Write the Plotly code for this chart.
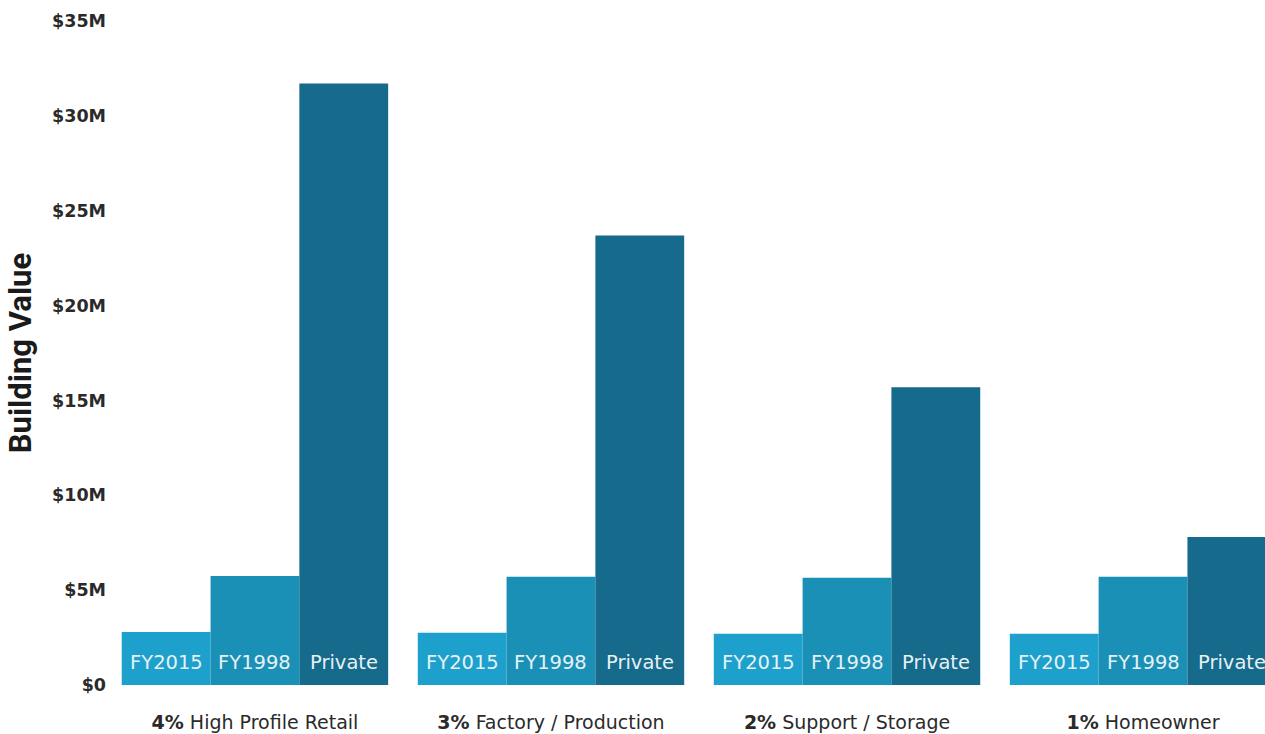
import plotly.graph_objects as go

categories = ["<b>4%</b> High Profile Retail", "<b>3%</b> Factory / Production",
              "<b>2%</b> Support / Storage", "<b>1%</b> Homeowner"]
series_names = ["FY2015", "FY1998", "Private"]
fy2015 = [2.8, 2.75, 2.7, 2.7]
fy1998 = [5.75, 5.7, 5.65, 5.7]
private = [31.7, 23.7, 15.7, 7.8]
y_ticks = [0, 5, 10, 15, 20, 25, 30, 35]
y_tick_labels = ["$0", "$5M", "$10M", "$15M", "$20M", "$25M", "$30M", "$35M"]
colors = ["#1DA0CC", "#1A90B6", "#166A8B"]

fig = go.Figure()
for name, vals, col in zip(series_names, [fy2015, fy1998, private], colors):
    fig.add_trace(go.Bar(x=list(range(len(categories))), y=vals, name=name,
                         marker=dict(color=col, line=dict(width=0)),
                         showlegend=False))

# in-bar labels near the base of each bar
bargap = 0.1
bw = (1 - bargap) / len(series_names)
annotations = []
for i in range(len(categories)):
    for j, name in enumerate(series_names):
        annotations.append(dict(
            x=i + (j - 1) * bw, y=0, xref="x", yref="y", yshift=23,
            text=name, showarrow=False, yanchor="middle",
            font=dict(family="DejaVu Sans", size=19.5, color="#E6F1F5")))

fig.update_layout(
    width=1265, height=734,
    margin=dict(l=117, r=0, t=21, b=49),
    paper_bgcolor="white", plot_bgcolor="white",
    barmode="group", bargap=bargap, bargroupgap=0,
    annotations=annotations,
    xaxis=dict(
        tickmode="array", tickvals=list(range(len(categories))), ticktext=categories,
        range=[-0.466, 3.412], showgrid=False, zeroline=False, showline=False,
        ticks="", ticklabelstandoff=24,
        tickfont=dict(family="DejaVu Sans", size=19, color="#2a2a2a"),
    ),
    yaxis=dict(
        range=[0, 35], tickvals=y_ticks, ticktext=y_tick_labels,
        showgrid=False, zeroline=False, showline=False, ticks="",
        ticklabelstandoff=10,
        tickfont=dict(family="DejaVu Sans", size=17.5, color="#2a2a2a", weight="bold"),
        title=dict(text="<b>Building Value</b>", standoff=11,
                   font=dict(family="Roboto", size=31, color="#1a1a1a")),
    ),
)

fig.write_html("out.html")
